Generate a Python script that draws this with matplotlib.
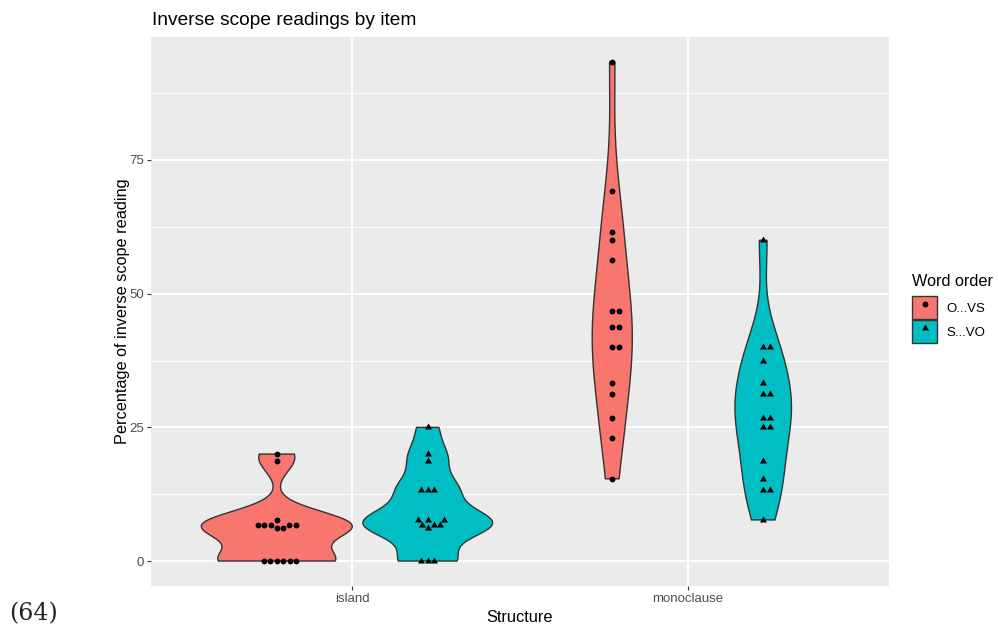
import numpy as np
import matplotlib
matplotlib.use("Agg")
import matplotlib.pyplot as plt
from matplotlib.patches import Patch, Polygon
from matplotlib.lines import Line2D
from matplotlib.path import Path
from matplotlib.legend_handler import HandlerTuple

# ---------------- data ----------------
structures = ["island", "monoclause"]
word_orders = ["O...VS", "S...VO"]
island_ovs = [20, 18.75, 7.69, 6.67, 6.67, 6.67, 6.67, 6.67, 6.25, 6.25, 0, 0, 0, 0, 0, 0]
island_svo = [25, 20, 18.75, 13.33, 13.33, 13.33, 7.69, 7.69, 7.69, 6.67, 6.67, 6.67, 6.25, 0, 0, 0]
mono_ovs = [93.33, 69.23, 61.54, 60, 56.25, 46.67, 46.67, 43.75, 43.75, 40, 40, 33.33, 31.25,
            26.67, 23.08, 15.38]
mono_svo = [60, 40, 40, 37.5, 33.33, 31.25, 31.25, 26.67, 26.67, 25, 25, 18.75, 15.38, 13.33,
            13.33, 7.69]
y_ticks = [0, 25, 50, 75]

groups = [
    (0, 0, island_ovs),
    (0, 1, island_svo),
    (1, 0, mono_ovs),
    (1, 1, mono_svo),
]

fills = ["#F8766D", "#00BFC4"]
edge = "#333333"

plt.rcParams['font.family'] = ['Liberation Sans', 'DejaVu Sans']

W, H = 998, 627
fig = plt.figure(figsize=(W / 100, H / 100), dpi=100)
pl, pr, pt, pb = 151, 889, 37, 586
ax = fig.add_axes([pl / W, (H - pb) / H, (pr - pl) / W, (pb - pt) / H])
ax.set_facecolor("#EBEBEB")
for s in ax.spines.values():
    s.set_visible(False)

ymax_data = max(max(g[2]) for g in groups)
ymin_data = 0
rng = ymax_data - ymin_data
ylim = (ymin_data - 0.05 * rng, ymax_data + 0.05 * rng)
xlim = (0.4, 2.6)
ax.set_xlim(*xlim)
ax.set_ylim(*ylim)

# px per data unit
xs_px = (pr - pl) / (xlim[1] - xlim[0])
ys_px = (pb - pt) / (ylim[1] - ylim[0])

# grid
ax.set_yticks(y_ticks)
ax.set_yticks([12.5, 37.5, 62.5, 87.5], minor=True)
ax.set_xticks([1, 2])
ax.set_xticklabels(structures)
ax.grid(True, which='major', color='white', linewidth=1.4)
ax.grid(True, which='minor', axis='y', color='white', linewidth=0.7)
ax.set_axisbelow(True)
ax.tick_params(axis='both', which='major', length=2.75, width=0.8, color='#333333',
               labelcolor='#4D4D4D', labelsize=9.5, pad=2.2)
ax.tick_params(axis='y', which='minor', length=0)


def nrd0(x):
    x = np.asarray(x, float)
    n = len(x)
    sd = np.std(x, ddof=1)
    q75, q25 = np.percentile(x, [75, 25])
    lo = min(sd, (q75 - q25) / 1.34)
    if lo == 0:
        lo = sd if sd > 0 else 1.0
    return 0.9 * lo * n ** -0.2


def kde(x, grid, bw):
    x = np.asarray(x, float)
    z = (grid[:, None] - x[None, :]) / bw
    return np.exp(-0.5 * z ** 2).sum(1) / (len(x) * bw * np.sqrt(2 * np.pi))


dodge = 0.9
vwidth = dodge / 2
dens_list = []
for si, oi, vals in groups:
    v = np.asarray(vals, float)
    grid = np.linspace(v.min(), v.max(), 512)
    d = kde(v, grid, nrd0(v))
    dens_list.append((grid, d))
maxd = max(d.max() for _, d in dens_list)

tri = Path([(0, 1), (-0.866, -0.5), (0.866, -0.5), (0, 1)],
           [Path.MOVETO, Path.LINETO, Path.LINETO, Path.CLOSEPOLY])
markers = ['o', tri]
msizes = [4.2, 5.8]


def swarm(ypx, dmin):
    order = np.argsort(ypx, kind='stable')
    px_list, py_list = [], []
    offs = np.zeros(len(ypx))
    for i in order:
        y = ypx[i]
        cands = [0.0]
        for qx, qy in zip(px_list, py_list):
            dy = abs(qy - y)
            if dy < dmin:
                dx = np.sqrt(dmin * dmin - dy * dy)
                cands += [qx + dx, qx - dx]
        valid = [c for c in cands
                 if all((c - qx) ** 2 + (y - qy) ** 2 >= dmin * dmin - 1e-6
                        for qx, qy in zip(px_list, py_list))]
        best = min(valid, key=lambda c: (round(abs(c), 6), -c))
        offs[i] = best
        px_list.append(best)
        py_list.append(y)
    return offs


for (si, oi, vals), (grid, d) in zip(groups, dens_list):
    center = (si + 1) + (oi - 0.5) * vwidth
    hw = d / maxd * vwidth / 2
    xs = np.concatenate([center - hw, (center + hw)[::-1]])
    ys = np.concatenate([grid, grid[::-1]])
    poly = Polygon(np.column_stack([xs, ys]), closed=True, facecolor=fills[oi],
                   edgecolor=edge, linewidth=1.0, zorder=2)
    ax.add_patch(poly)
    v = np.asarray(vals, float)
    offs = swarm(v * ys_px, 6.5) / xs_px
    ax.plot(center + offs, v, linestyle='none', marker=markers[oi], markersize=msizes[oi],
            color='black', markeredgewidth=0, zorder=3)

# text
fig.text(152 / W, 1 - 25 / H, "Inverse scope readings by item", fontsize=13.8,
         color='black', ha='left', va='baseline')
fig.text((pl + pr) / 2 / W, 1 - 617 / H, "Structure", fontsize=11.8, color='black',
         ha='center', va='center')
fig.text(123 / W, 1 - (pt + pb) / 2 / H, "Percentage of inverse scope reading", fontsize=11.7,
         color='black', ha='center', va='center', rotation=90)
fig.text(9 / W, 1 - 620 / H, "(64)", fontsize=17, color='#222222', ha='left',
         va='baseline', family='DejaVu Serif')

# legend
handles = []
for oi in range(2):
    handles.append((Patch(facecolor=fills[oi], edgecolor=edge, linewidth=1.0),
                    Line2D([], [], linestyle='none', marker=markers[oi], markersize=msizes[oi],
                           color='black', markeredgewidth=0)))
leg = fig.legend(handles, word_orders, handler_map={tuple: HandlerTuple(ndivide=1, pad=0)},
                 loc='upper left', bbox_to_anchor=(912 / W, 1 - 274 / H), frameon=False,
                 title="Word order", title_fontsize=11.7, fontsize=9.5, alignment='left',
                 handlelength=1.9, handleheight=2.35, handletextpad=0.7, labelspacing=0.05,
                 borderpad=0, borderaxespad=0)
leg._legend_box.sep = 5

fig.savefig("out.png", dpi=100)
